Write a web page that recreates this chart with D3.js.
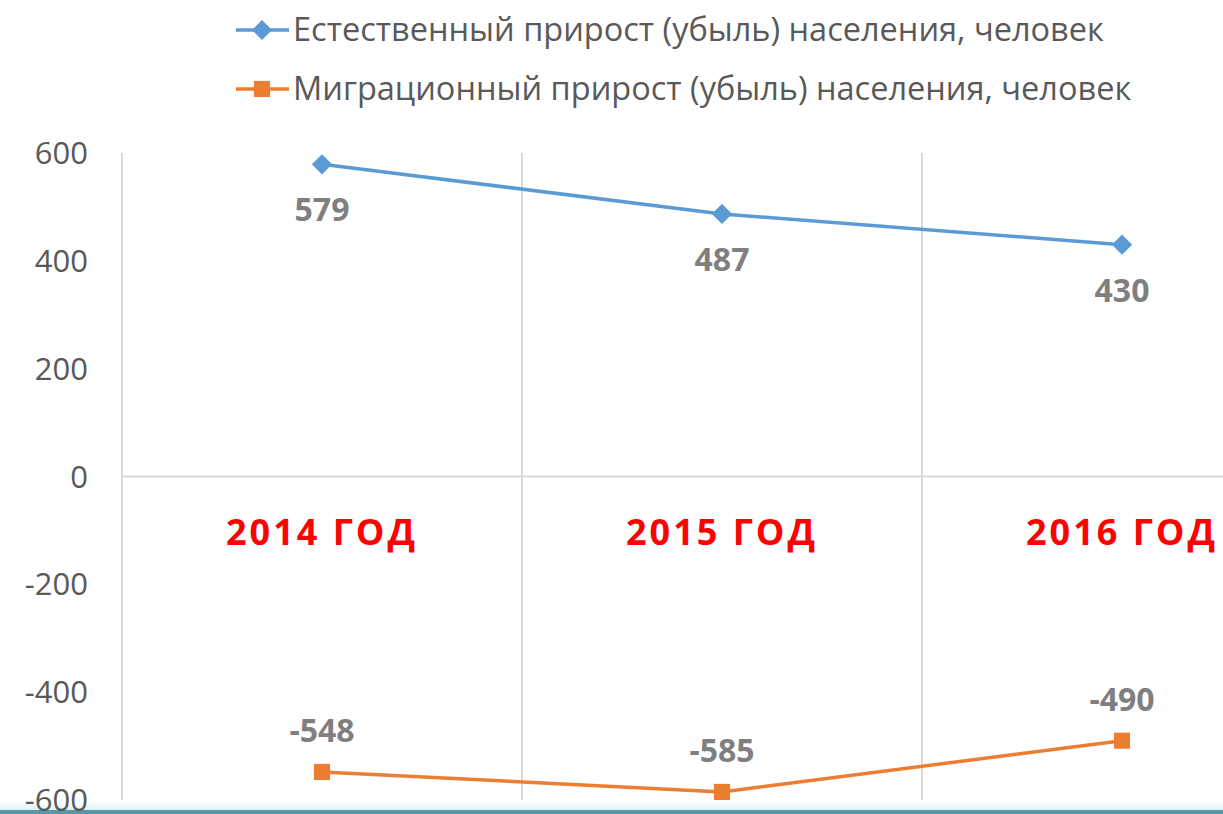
<!DOCTYPE html>
<html>
<head>
<meta charset="utf-8">
<script src="https://cdn.jsdelivr.net/npm/d3@7"></script>
<style>
  html, body { margin: 0; padding: 0; background: #fff; overflow: hidden; }
  svg text { font-family: "Open Sans", "Noto Sans", sans-serif; }
</style>
</head>
<body>
<div id="chart"></div>
<script>
var years = ["2014 ГОД", "2015 ГОД", "2016 ГОД"];
var natural = [579, 487, 430];
var migration = [-548, -585, -490];
var seriesNames = ["Естественный прирост (убыль) населения, человек",
                   "Миграционный прирост (убыль) населения, человек"];
var yTicks = [600, 400, 200, 0, -200, -400, -600];

var width = 1223, height = 814;
var svg = d3.select("#chart").append("svg").attr("width", width).attr("height", height);

var x = d3.scaleBand().domain(years).range([122, 1322]);
var y = d3.scaleLinear().domain([-600, 600]).range([800, 153]);

// bottom strip
var grad = svg.append("defs").append("linearGradient").attr("id", "strip").attr("x1", 0).attr("x2", 0).attr("y1", 0).attr("y2", 1);
grad.append("stop").attr("offset", "0%").attr("stop-color", "#ffffff");
grad.append("stop").attr("offset", "100%").attr("stop-color", "#d8f2f6");
svg.append("rect").attr("x", 0).attr("y", 802).attr("width", width).attr("height", 8).attr("fill", "url(#strip)");
svg.append("rect").attr("x", 0).attr("y", 810).attr("width", width).attr("height", 4).attr("fill", "#5a97a6");

// vertical gridlines at category boundaries
svg.selectAll(".vgrid").data(years).enter().append("line")
  .attr("x1", function(d){ return x(d); }).attr("x2", function(d){ return x(d); })
  .attr("y1", y(600)).attr("y2", y(-600))
  .attr("stroke", "#d9d9d9").attr("stroke-width", 2);

// zero axis
svg.append("line").attr("x1", 122).attr("x2", width).attr("y1", y(0)).attr("y2", y(0))
  .attr("stroke", "#d9d9d9").attr("stroke-width", 2);

// y axis labels
var yAxis = d3.axisLeft(y).tickValues(yTicks).tickSize(0).tickPadding(0)
  .tickFormat(function(d){ return String(d); });
var ya = svg.append("g").attr("transform", "translate(88,0)").call(yAxis);
ya.select(".domain").remove();
ya.selectAll("text").attr("font-size", 31).attr("fill", "#595959")
  .attr("font-family", "Open Sans, sans-serif").attr("dy", "0.34em");

// category labels
svg.selectAll(".cat").data(years).enter().append("text")
  .attr("x", function(d){ return x(d) + x.bandwidth() / 2; })
  .attr("y", 545)
  .attr("text-anchor", "middle")
  .attr("font-size", 36).attr("font-weight", "bold").attr("letter-spacing", 3)
  .attr("fill", "#ff0000")
  .text(function(d){ return d; });

var cx = function(d, i){ return x(years[i]) + x.bandwidth() / 2; };

var line = d3.line().x(cx).y(function(d){ return y(d); });

// natural series
svg.append("path").datum(natural).attr("d", line)
  .attr("fill", "none").attr("stroke", "#5b9bd5").attr("stroke-width", 3.5);
svg.selectAll(".nat").data(natural).enter().append("path")
  .attr("d", d3.symbol().type(d3.symbolDiamond2).size(260))
  .attr("transform", function(d, i){ return "translate(" + cx(d, i) + "," + y(d) + ")"; })
  .attr("fill", "#5b9bd5");
svg.selectAll(".natl").data(natural).enter().append("text")
  .attr("x", cx).attr("y", function(d){ return y(d) + 57; })
  .attr("text-anchor", "middle").attr("font-size", 32).attr("font-weight", "bold")
  .attr("fill", "#7f7f7f").text(function(d){ return d; });

// migration series
svg.append("path").datum(migration).attr("d", line)
  .attr("fill", "none").attr("stroke", "#ed7d31").attr("stroke-width", 3.5);
svg.selectAll(".mig").data(migration).enter().append("path")
  .attr("d", d3.symbol().type(d3.symbolSquare).size(260))
  .attr("transform", function(d, i){ return "translate(" + cx(d, i) + "," + y(d) + ")"; })
  .attr("fill", "#ed7d31");
svg.selectAll(".migl").data(migration).enter().append("text")
  .attr("x", cx).attr("y", function(d){ return y(d) - 30; })
  .attr("text-anchor", "middle").attr("font-size", 32).attr("font-weight", "bold")
  .attr("fill", "#7f7f7f").text(function(d){ return d; });

// legend
var legend = [
  { name: seriesNames[0], color: "#5b9bd5", sym: d3.symbolDiamond2, size: 260, y: 30 },
  { name: seriesNames[1], color: "#ed7d31", sym: d3.symbolSquare, size: 260, y: 89 }
];
var lg = svg.selectAll(".lg").data(legend).enter().append("g")
  .attr("transform", function(d){ return "translate(0," + d.y + ")"; });
lg.append("line").attr("x1", 236).attr("x2", 289).attr("y1", 0).attr("y2", 0)
  .attr("stroke", function(d){ return d.color; }).attr("stroke-width", 3.5);
lg.append("path").attr("d", function(d){ return d3.symbol().type(d.sym).size(d.size)(); })
  .attr("transform", "translate(262,0)").attr("fill", function(d){ return d.color; });
lg.append("text").attr("x", 293).attr("y", 0).attr("dy", "0.35em")
  .attr("font-size", 32.5).attr("fill", "#595959")
  .text(function(d){ return d.name; });
</script>
</body>
</html>
